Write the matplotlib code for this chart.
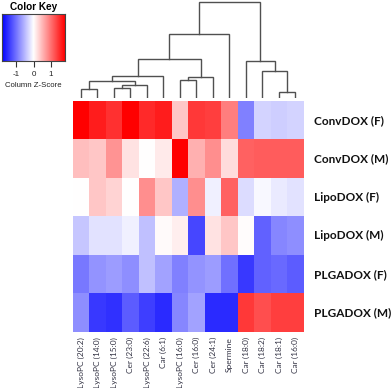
import numpy as np
import matplotlib
matplotlib.use('Agg')
import matplotlib.pyplot as plt

# Heatmap of column z-scores with column dendrogram and color key

rows = ['ConvDOX (F)', 'ConvDOX (M)', 'LipoDOX (F)', 'LipoDOX (M)', 'PLGADOX (F)', 'PLGADOX (M)']
cols = ['LysoPC (20:2)', 'LysoPC (14:0)', 'LysoPC (15:0)', 'Cer (23:0)', 'LysoPC (22:6)', 'Car (6:1)',
        'LysoPC (16:0)', 'Cer (16:0)', 'Cer (24:1)', 'Spermine', 'Car (18:0)', 'Car (18:2)',
        'Car (18:1)', 'Car (16:0)']

z_conv_f = [1.8, 1.6, 1.45, 1.8, 1.5, 1.6, 0.4, 1.4, 1.35, 0.9, -0.9, -0.3, -0.35, -0.3]
z_conv_m = [0.45, 0.4, 0.75, 0.2, 0.0, 0.15, 1.8, 0.55, 0.8, 0.25, 1.1, 1.15, 1.15, 1.15]
z_lipo_f = [0.0, 0.4, 0.3, 0.0, 0.8, 0.4, -0.55, 0.8, -0.1, 1.1, -0.25, -0.05, -0.15, -0.2]
z_lipo_m = [-0.4, -0.2, -0.2, -0.1, -0.45, 0.03, 0.12, -1.3, 0.2, 0.4, 0.02, -1.1, -0.85, -0.8]
z_plga_f = [-0.95, -0.75, -0.7, -0.8, -0.45, -0.65, -0.9, -0.75, -0.7, -1.0, -1.4, -1.1, -1.05, -1.15]
z_plga_m = [-0.8, -1.4, -1.45, -1.15, -1.35, -1.5, -0.85, -0.65, -1.5, -1.5, 1.4, 1.25, 1.35, 1.35]

# column dendrogram merges: (left, right, height); ids >= 14 are earlier merges
merges = [(0, 1, 28), (2, 3, 30), (15, 4, 40), (14, 16, 50), (17, 5, 67),
          (6, 7, 53), (19, 8, 64), (18, 20, 118), (21, 9, 191),
          (12, 13, 19), (11, 23, 80), (10, 24, 112), (22, 25, 289)]

data = np.array([z_conv_f, z_conv_m, z_lipo_f, z_lipo_m, z_plga_f, z_plga_m])
vmax = 1.8
cmap = plt.get_cmap('bwr')
W, H = 392, 388

fig = plt.figure(figsize=(W / 100, H / 100), dpi=100)

def px_axes(x0, y0, x1, y1):
    return fig.add_axes([x0 / W, 1 - y1 / H, (x1 - x0) / W, (y1 - y0) / H])

# heatmap
ax = px_axes(72.7, 101, 303.7, 332)
ax.imshow(data, cmap=cmap, vmin=-vmax, vmax=vmax, aspect='auto', interpolation='nearest',
          extent=(0, len(cols), len(rows), 0))
ax.set_xlim(0, len(cols))
ax.set_ylim(len(rows), 0)
ax.set_xticks([])
ax.set_yticks([])
for s in ax.spines.values():
    s.set_visible(False)
for i, r in enumerate(rows):
    ax.text(len(cols) + 0.6, i + 0.5, r, ha='left', va='center', fontsize=8.5,
            fontweight='bold', family='Lato', color='#111111')
for j, c in enumerate(cols):
    ax.text(j + 0.5, len(rows) + 0.13, c, ha='center', va='top', rotation=90,
            fontsize=6, family='Lato', color='#333344')

# dendrogram
dax = px_axes(72.7, 1, 303.7, 98)
dax.set_xlim(0, len(cols))
dax.set_ylim(0, 291)
dax.axis('off')
pos = {i: i + 0.5 for i in range(len(cols))}
hgt = {i: 0 for i in range(len(cols))}
for k, (a, b, h) in enumerate(merges):
    xa, xb = pos[a], pos[b]
    dax.plot([xa, xa, xb, xb], [hgt[a], h, h, hgt[b]], color='#505050', lw=1.0,
             solid_joinstyle='miter')
    pos[len(cols) + k] = (xa + xb) / 2
    hgt[len(cols) + k] = h

# color key
cax = px_axes(2, 14, 65, 61)
grad = np.linspace(-vmax, vmax, 256)[None, :]
cax.imshow(grad, cmap=cmap, vmin=-vmax, vmax=vmax, aspect='auto',
           extent=(-vmax, vmax, 0, 1))
cax.set_yticks([])
cax.set_xticks([-1, 0, 1])
cax.set_xticklabels(['-1', '0', '1'], fontsize=5.8, family='Liberation Sans')
cax.tick_params(axis='x', length=4, width=0.8, color='#333333', pad=3, labelcolor='#222222')
for s in cax.spines.values():
    s.set_color('#444444')
    s.set_linewidth(0.8)
cax.set_title('Color Key', fontsize=7.2, fontweight='bold', family='Liberation Sans', pad=3)
cax.set_xlabel('Column Z-Score', fontsize=5.6, family='Liberation Sans', labelpad=3,
               color='#222222')

fig.savefig('out.png', dpi=100)
